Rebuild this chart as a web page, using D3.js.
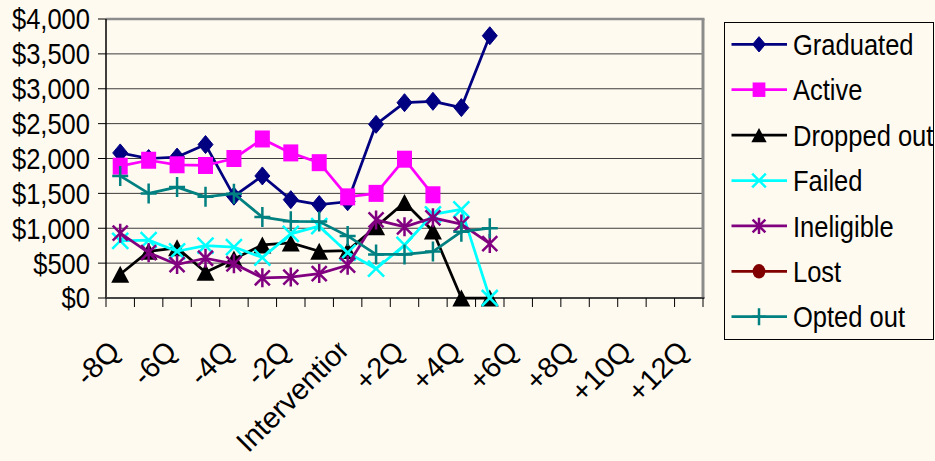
<!DOCTYPE html>
<html>
<head>
<meta charset="utf-8">
<script src="https://cdn.jsdelivr.net/npm/d3@7/dist/d3.min.js"></script>
<style>
  html, body { margin: 0; padding: 0; background: #FFFAF0; }
  svg { display: block; font-family: "Liberation Sans", Arial, sans-serif; }
</style>
</head>
<body>
<svg id="chart" width="935" height="461"></svg>
<script>
// Quarters relative to the intervention
const categories = ['-8Q','-7Q','-6Q','-5Q','-4Q','-3Q','-2Q','-1Q','Intervention',
  '+1Q','+2Q','+3Q','+4Q','+5Q','+6Q','+7Q','+8Q','+9Q','+10Q','+11Q','+12Q'];
const shownLabels = ['-8Q','-6Q','-4Q','-2Q','Intervention','+2Q','+4Q','+6Q','+8Q','+10Q','+12Q'];
const yTicks = [0, 500, 1000, 1500, 2000, 2500, 3000, 3500, 4000];

const seriesNames = ['Graduated','Active','Dropped out','Failed','Ineligible','Lost','Opted out'];
const graduated  = [2080, 2000, 2020, 2200, 1460, 1750, 1410, 1340, 1380, 2490, 2800, 2820, 2730, 3760];
const active     = [1890, 1975, 1910, 1900, 2000, 2280, 2080, 1940, 1450, 1500, 1990, 1480];
const droppedOut = [340, 670, 720, 370, 560, 760, 790, 670, 680, 1020, 1370, 960, 0, 0];
const failed     = [820, 830, 670, 750, 730, 580, 920, 1030, 650, 420, 760, 1200, 1270, 0];
const ineligible = [930, 650, 480, 570, 490, 290, 300, 350, 470, 1120, 1020, 1150, 1060, 780];
const lost       = [];
const optedOut   = [1750, 1500, 1590, 1450, 1495, 1160, 1100, 1095, 890, 625, 625, 665, 950, 1000];

const seriesColors  = ['#000080','#FF00FF','#000000','#00FFFF','#800080','#800000','#008080'];
const seriesMarkers = ['diamond','square','triangle','x','star','circle','plus'];
const seriesValues  = [graduated, active, droppedOut, failed, ineligible, lost, optedOut];

const series = seriesNames.map((name, k) => ({
  name, values: seriesValues[k], color: seriesColors[k], marker: seriesMarkers[k]
}));

const svg = d3.select('#chart');
const BG = '#FFFAF0';
const FONT = 29;
const SQUEEZE = 0.88; // horizontal text condensing

svg.append('rect').attr('width', 935).attr('height', 461).attr('fill', BG);

const plot = { left: 106, right: 703, top: 19, bottom: 298 };

const x = d3.scaleBand().domain(categories).range([plot.left, plot.right]);
const y = d3.scaleLinear().domain([0, 4000]).range([plot.bottom, plot.top]);
const cx = c => x(c) + x.bandwidth() / 2;

// gridlines
svg.append('g').selectAll('line').data(yTicks.filter(v => v > 0)).join('line')
  .attr('x1', plot.left).attr('x2', plot.right)
  .attr('y1', d => y(d)).attr('y2', d => y(d))
  .attr('stroke', '#3c3c3c').attr('stroke-width', 1);

// plot frame (top and right)
svg.append('line').attr('x1', plot.left).attr('x2', plot.right + 1.5)
  .attr('y1', plot.top).attr('y2', plot.top)
  .attr('stroke', '#8c8c8c').attr('stroke-width', 2.5);
svg.append('line').attr('x1', plot.right).attr('x2', plot.right)
  .attr('y1', plot.top).attr('y2', plot.bottom)
  .attr('stroke', '#8c8c8c').attr('stroke-width', 3);

// y axis
const yAxis = svg.append('g');
yAxis.append('line').attr('x1', plot.left).attr('x2', plot.left)
  .attr('y1', plot.top).attr('y2', plot.bottom)
  .attr('stroke', '#000').attr('stroke-width', 1.5);
const fmt = d3.format(',');
const yt = yAxis.selectAll('g.tick').data(yTicks).join('g').attr('class', 'tick')
  .attr('transform', d => `translate(0,${y(d)})`);
yt.append('line').attr('x1', plot.left - 8).attr('x2', plot.left)
  .attr('stroke', '#000').attr('stroke-width', 1);
yt.append('g').attr('transform', `translate(90,0) scale(${SQUEEZE},1)`)
  .append('text').attr('text-anchor', 'end').attr('dy', '0.36em')
  .attr('font-size', FONT).attr('fill', '#000')
  .text(d => '$' + fmt(d));

// x axis
const xAxis = svg.append('g');
xAxis.append('line').attr('x1', plot.left).attr('x2', plot.right + 1.5)
  .attr('y1', plot.bottom).attr('y2', plot.bottom)
  .attr('stroke', '#444').attr('stroke-width', 2);
const edges = categories.map(c => x(c)).concat([x.range()[1]]);
xAxis.selectAll('line.tk').data(edges).join('line').attr('class', 'tk')
  .attr('x1', d => d).attr('x2', d => d)
  .attr('y1', plot.bottom).attr('y2', plot.bottom + 9)
  .attr('stroke', '#000').attr('stroke-width', 1);

const defs = svg.append('defs');
defs.append('clipPath').attr('id', 'labelClip')
  .append('rect').attr('x', -400).attr('y', -50).attr('width', 400).attr('height', 80);

xAxis.selectAll('g.xl').data(shownLabels).join('g').attr('class', 'xl')
  .attr('transform', d => `translate(${cx(d) + 1.5},353) rotate(-45)`)
  .each(function (d) {
    const long = d.length > 6;
    d3.select(this).append('text')
      .attr('text-anchor', 'end')
      .attr('x', long ? 9 : 0)
      .attr('font-size', FONT).attr('fill', '#000')
      .attr('clip-path', long ? 'url(#labelClip)' : null)
      .text(d);
  });

// marker shapes
function drawMarker(g, type, color, s) {
  s = s || 1;
  switch (type) {
    case 'diamond':
      g.append('path').attr('d', `M0,${-9*s} L${7.5*s},0 L0,${9*s} L${-7.5*s},0 Z`)
        .attr('fill', color).attr('stroke', color).attr('stroke-width', 1);
      break;
    case 'square':
      g.append('rect').attr('x', -7.5*s).attr('y', -8.5*s).attr('width', 15*s).attr('height', 17*s)
        .attr('fill', color);
      break;
    case 'triangle':
      g.append('path').attr('d', `M0,${-8.5*s} L${9*s},${8.5*s} L${-9*s},${8.5*s} Z`)
        .attr('fill', color);
      break;
    case 'x':
      g.append('path').attr('d', `M${-8*s},${-8*s} L${8*s},${8*s} M${-8*s},${8*s} L${8*s},${-8*s}`)
        .attr('stroke', color).attr('stroke-width', 2.5).attr('fill', 'none');
      break;
    case 'star':
      g.append('path').attr('d', `M${-7.5*s},${-7.5*s} L${7.5*s},${7.5*s} M${-7.5*s},${7.5*s} L${7.5*s},${-7.5*s} M0,${-9.5*s} L0,${9.5*s}`)
        .attr('stroke', color).attr('stroke-width', 2.5).attr('fill', 'none');
      break;
    case 'plus':
      g.append('path').attr('d', `M${-8*s},0 L${8*s},0 M0,${-10*s} L0,${10*s}`)
        .attr('stroke', color).attr('stroke-width', 2.5).attr('fill', 'none');
      break;
    case 'circle':
      g.append('ellipse').attr('rx', 7.5*s).attr('ry', 8.5*s).attr('fill', color);
      break;
  }
}

// series lines and markers
const line = d3.line()
  .defined(d => d != null)
  .x((d, i) => cx(categories[i]))
  .y(d => y(d));

const seriesG = svg.append('g');
series.forEach(s => {
  if (!s.values.length) return;
  const g = seriesG.append('g');
  g.append('path').datum(s.values).attr('d', line)
    .attr('fill', 'none').attr('stroke', s.color).attr('stroke-width', 2.75)
    .attr('stroke-linejoin', 'round');
  s.values.forEach((v, i) => {
    if (v == null) return;
    const m = g.append('g').attr('transform', `translate(${cx(categories[i])},${y(v)})`);
    drawMarker(m, s.marker, s.color);
  });
});

// legend
const legend = svg.append('g');
legend.append('rect').attr('x', 724.5).attr('y', 22.5).attr('width', 209).attr('height', 317)
  .attr('fill', BG).attr('stroke', '#000').attr('stroke-width', 1);
const rowY = d3.scalePoint().domain(seriesNames).range([44.3, 316.7]);
series.forEach(s => {
  const r = legend.append('g').attr('transform', `translate(0,${rowY(s.name)})`);
  r.append('line').attr('x1', 731.5).attr('x2', 787)
    .attr('stroke', s.color).attr('stroke-width', 2.75);
  drawMarker(r.append('g').attr('transform', 'translate(759,0)'), s.marker, s.color, 0.85);
  r.append('g').attr('transform', `translate(793,0) scale(${SQUEEZE},1)`)
    .append('text').attr('dy', '0.37em').attr('font-size', FONT).attr('fill', '#000')
    .text(s.name);
});
</script>
</body>
</html>
